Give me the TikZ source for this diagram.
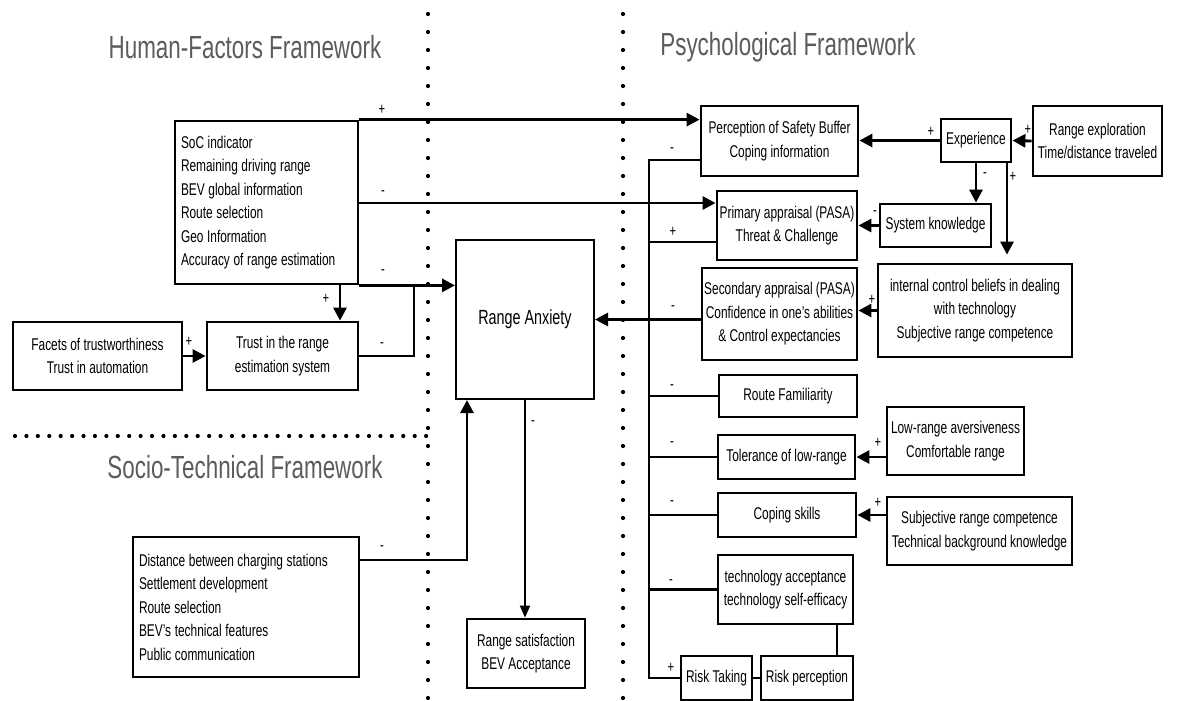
\documentclass[tikz,border=0pt]{standalone}
\usepackage{fontspec}
\setmainfont[FakeStretch=0.7]{Liberation Sans}
\usetikzlibrary{arrows.meta}
\definecolor{titlegray}{HTML}{5C5C5C}
\newcommand\myNodeFont{\fontsize{17}{23.5}\selectfont}
\newcommand\myBigFont{\fontsize{20.5}{24}\selectfont}
\newcommand\mySignFont{\fontsize{16}{18}\selectfont}
\newcommand\myTitleFont{\fontsize{32}{36}\selectfont}
\begin{document}
\begin{tikzpicture}[x=1pt,y=-1pt,
  box/.style={draw, line width=2.8pt, inner sep=0pt, align=center, font=\myNodeFont},
  listbox/.style={box, align=left, execute at begin node={\spaceskip=3.6pt\relax}},
  arr/.style={line width=2.8pt, -{Triangle[length=13pt,width=13pt]}},
  thinarr/.style={line width=2pt, -{Triangle[length=12pt,width=10pt]}},
  ln/.style={line width=2.8pt},
  sg/.style={font=\mySignFont, inner sep=0pt},
  ttl/.style={font=\myTitleFont, text=titlegray, inner sep=0pt}
]
\fill[white] (0,0) rectangle (1203,701);
\useasboundingbox (0,0) rectangle (1203,701);

% dotted separators
\foreach \k in {0,...,38} { \fill (428,14+18*\k) circle[radius=2.1]; }
\foreach \k in {0,...,38} { \fill (623,14+18*\k) circle[radius=2.1]; }
\foreach \k in {0,...,36} { \fill (15+11.42*\k,436) circle[radius=2.1]; }

% titles
\node[ttl] (t1) at (245,47) {Human-Factors Framework};
\node[ttl] (t2) at (788,47) {Psychological Framework};
\node[ttl] (t3) at (245,467) {Socio-Technical Framework};

% left boxes
\node[listbox, minimum width=183pt, minimum height=163pt, text width=171pt] (hf) at (266.5,202.5)
  {SoC indicator\\Remaining driving range\\BEV global information\\Route selection\\Geo Information\\Accuracy of range estimation};
\node[box, minimum width=169pt, minimum height=68pt] (facets) at (97.5,356) {Facets of trustworthiness\\Trust in automation};
\node[box, minimum width=151pt, minimum height=68pt] (trust) at (282.5,356) {Trust in the range\\estimation system};
\node[box, line width=2pt, minimum width=138pt, minimum height=159pt, font=\myBigFont] (ra) at (525,319.5) {Range Anxiety};
\node[listbox, minimum width=226pt, minimum height=140pt, text width=214pt] (socio) at (246,607)
  {Distance between charging stations\\Settlement development\\Route selection\\BEV’s technical features\\Public communication};
\node[box, minimum width=118pt, minimum height=69pt] (sat) at (526,653.5) {Range satisfaction\\BEV Acceptance};

% right boxes
\node[box, minimum width=157pt, minimum height=70pt] (perc) at (779.5,141) {Perception of Safety Buffer\\Coping information};
\node[box, minimum width=70pt, minimum height=43pt] (exp) at (976,140.5) {Experience};
\node[box, minimum width=129pt, minimum height=70pt] (rexp) at (1097.5,141) {Range exploration\\Time/distance traveled};
\node[box, minimum width=111pt, minimum height=43pt] (sysk) at (935.5,225.5) {System knowledge};
\node[box, minimum width=140pt, minimum height=69pt] (prim) at (787,225.5) {Primary appraisal (PASA)\\Threat \& Challenge};
\node[box, minimum width=155pt, minimum height=92pt] (sec) at (779.5,314) {Secondary appraisal (PASA)\\Confidence in one’s abilities\\\& Control expectancies};
\node[box, minimum width=194pt, minimum height=93pt] (icb) at (975,310.5) {internal control beliefs in dealing\\with technology\\Subjective range competence};
\node[box, minimum width=138pt, minimum height=42pt] (route) at (788,396) {Route Familiarity};
\node[box, minimum width=137pt, minimum height=44pt] (tol) at (786.5,457) {Tolerance of low-range};
\node[box, minimum width=137pt, minimum height=68pt] (low) at (955.5,441) {Low-range aversiveness\\Comfortable range};
\node[box, minimum width=138pt, minimum height=44pt] (cope) at (787,515) {Coping skills};
\node[box, minimum width=185pt, minimum height=68pt] (subj) at (979.5,531) {Subjective range competence\\Technical background knowledge};
\node[box, minimum width=135pt, minimum height=69pt] (tech) at (785.5,589.5) {technology acceptance\\technology self-efficacy};
\node[box, minimum width=71pt, minimum height=44pt] (rtake) at (716.5,678) {Risk Taking};
\node[box, minimum width=92pt, minimum height=44pt] (rperc) at (807,678) {Risk perception};

% helper coordinates
\coordinate (j1) at (358,203);
\coordinate (j2) at (340,284);
\coordinate (j3) at (414,284);
\coordinate (j4) at (467,560);
\coordinate (b0) at (649,160);
\coordinate (b1) at (649,242);
\coordinate (bb) at (649,678);
\coordinate (e2) at (1007,162);
\coordinate (r1) at (837,624);

% left connectors
\draw[arr] (hf.north east) -- (hf.north east -| perc.west);
\draw[arr] (j1) -- (j1 -| prim.west);
\draw[arr] (hf.south east) -- (hf.south east -| ra.west);
\draw[arr] (j2) -- (j2 |- trust.north);
\draw[arr] (facets.east) -- (trust.west);
\draw[ln] (trust.east) -| (j3);
\draw[arr] (j4 -| socio.east) -- (j4) -- (j4 |- ra.south);
\draw[thinarr] (ra.south) -- (ra.south |- sat.north);

% right connectors
\draw[arr] (rexp.west) -- (exp.east);
\draw[arr] (exp.west) -- (exp.west -| perc.east);
\draw[arr] (exp.south) -- (exp.south |- sysk.north);
\draw[arr, shorten >=8pt] (e2) -- (e2 |- icb.north);
\draw[arr] (sysk.west) -- (sysk.west -| prim.east);
\draw[arr] (icb.west) -- (icb.west -| sec.east);
\draw[arr] (low.west |- tol.east) -- (tol.east);
\draw[arr] (subj.west |- cope.east) -- (cope.east);

% bus
\draw[ln] (b0 -| perc.west) -- (b0) -- (bb) -- (rtake.west);
\draw[ln] (b1) -- (b1 -| prim.west);
\draw[arr] (sec.west |- ra.east) -- (ra.east);
\draw[ln] (route.west) -- (route.west -| b0);
\draw[ln] (tol.west) -- (tol.west -| b0);
\draw[ln] (cope.west) -- (cope.west -| b0);
\draw[ln] (tech.west) -- (tech.west -| b0);
\draw[ln] (r1) -- (r1 |- rperc.north);
\draw[ln] (rtake.east) -- (rperc.west);

% signs
\node[sg] (l1) at (382,110) {+};
\node[sg] (l2) at (383,193) {-};
\node[sg] (l3) at (383,272) {-};
\node[sg] (l4) at (326,299) {+};
\node[sg] (l5) at (189,342) {+};
\node[sg] (l6) at (382,345) {-};
\node[sg] (l7) at (382,548) {-};
\node[sg] (l8) at (533,423) {-};
\node[sg] (l9) at (672,150) {-};
\node[sg] (l10) at (673,232) {+};
\node[sg] (l11) at (673,308) {-};
\node[sg] (l12) at (672,387) {-};
\node[sg] (l13) at (672,444) {-};
\node[sg] (l14) at (672,503) {-};
\node[sg] (l15) at (671,582) {-};
\node[sg] (l16) at (671,668) {+};
\node[sg] (l17) at (931,132) {+};
\node[sg] (l18) at (1028,130) {+};
\node[sg] (l19) at (985,175) {-};
\node[sg] (l20) at (1013,177) {+};
\node[sg] (l21) at (875,213) {-};
\node[sg] (l22) at (872,300) {+};
\node[sg] (l23) at (878,443) {+};
\node[sg] (l24) at (878,503) {+};
\end{tikzpicture}
\end{document}
